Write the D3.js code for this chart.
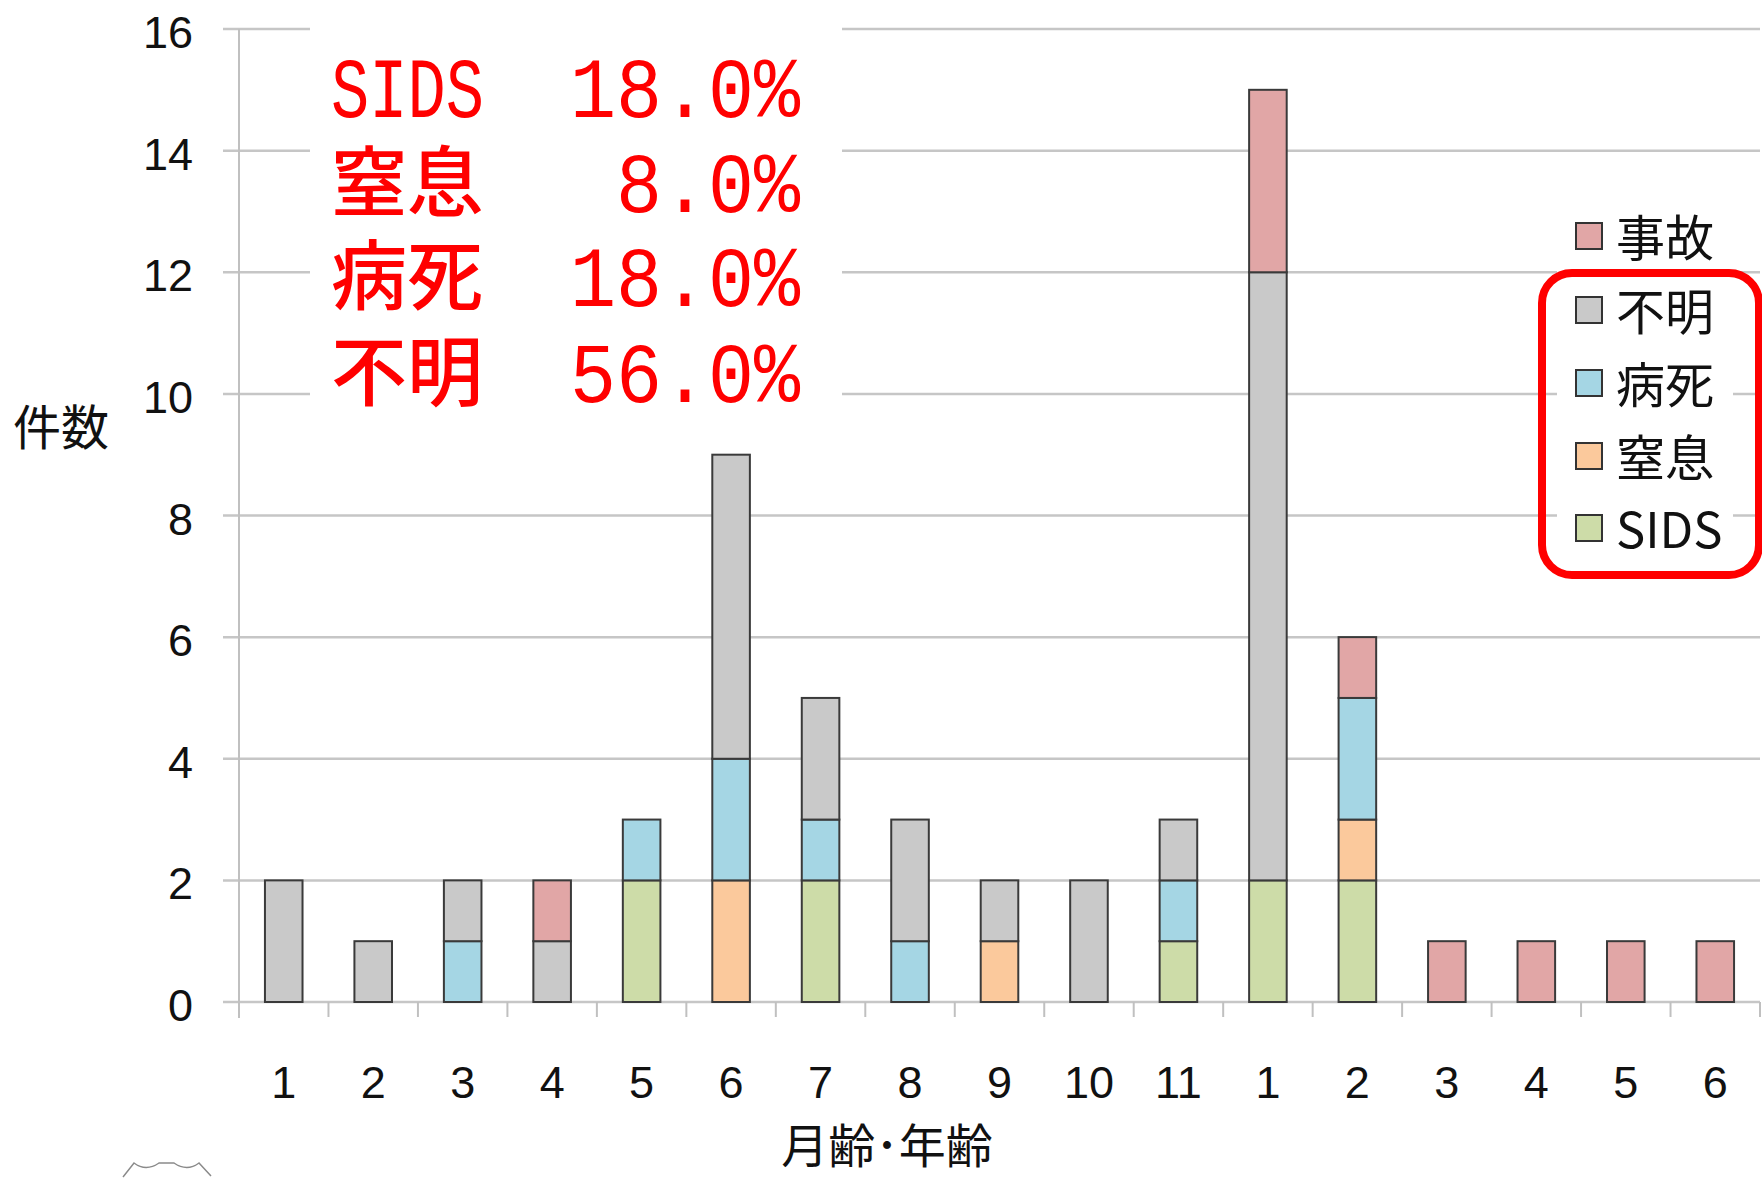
<!DOCTYPE html>
<html>
<head>
<meta charset="utf-8">
<script src="https://cdn.jsdelivr.net/npm/d3@7"></script>
<style>
html,body{margin:0;padding:0;background:#fff;}
svg{display:block;}
</style>
</head>
<body>
<svg id="chart" width="1762" height="1178"></svg>
<script>
// ---- data ----
const categories = ["1","2","3","4","5","6","7","8","9","10","11","1","2","3","4","5","6"];
const seriesKeys = ["SIDS","窒息","病死","不明","事故"];
const sids   = [0,0,0,0,2,0,2,0,0,0,1,2,2,0,0,0,0];
const chissoku = [0,0,0,0,0,2,0,0,1,0,0,0,1,0,0,0,0];
const byoshi = [0,0,1,0,1,2,1,1,0,0,1,0,2,0,0,0,0];
const fumei  = [2,1,1,1,0,5,2,2,1,2,1,10,0,0,0,0,0];
const jiko   = [0,0,0,1,0,0,0,0,0,0,0,3,1,1,1,1,1];
const yTicks = [0,2,4,6,8,10,12,14,16];
const legendOrder = ["事故","不明","病死","窒息","SIDS"];
const annoLabels = ["SIDS","窒息","病死","不明"];
const annoValues = ["18.0%","8.0%","18.0%","56.0%"];
const yTitle = "件数";
const xTitle = "月齢･年齢";

const colors = {"SIDS":"#cddca8","窒息":"#fbc99c","病死":"#a5d6e4","不明":"#c9c9c9","事故":"#e1a6a6"};

const rows = categories.map((c,i)=>({idx:i, cat:c, "SIDS":sids[i], "窒息":chissoku[i], "病死":byoshi[i], "不明":fumei[i], "事故":jiko[i]}));

const svg = d3.select("#chart");
const x = d3.scaleBand().domain(d3.range(categories.length)).range([239,1760]).paddingInner(0).paddingOuter(0);
const y = d3.scaleLinear().domain([0,16]).range([1002,29]);

// gridlines
svg.append("g").selectAll("line").data(yTicks).join("line")
  .attr("x1",223).attr("x2",1760)
  .attr("y1",d=>y(d)).attr("y2",d=>y(d))
  .attr("stroke","#c6c6c6").attr("stroke-width",2.5);

// y axis line
svg.append("line").attr("x1",239).attr("x2",239).attr("y1",y(16)).attr("y2",1018)
  .attr("stroke","#c0c0c0").attr("stroke-width",2);

// x ticks
const bounds = d3.range(categories.length+1).map(i=> i<categories.length ? x(i) : x(categories.length-1)+x.bandwidth());
svg.append("g").selectAll("line").data(bounds).join("line")
  .attr("x1",d=>d).attr("x2",d=>d).attr("y1",y(0)).attr("y2",1017)
  .attr("stroke","#c0c0c0").attr("stroke-width",2);

// white boxes behind annotation and legend
svg.append("rect").attr("x",310).attr("y",10).attr("width",532).attr("height",420).attr("fill","#fff");
svg.append("rect").attr("x",1557).attr("y",195).attr("width",176).attr("height",365).attr("fill","#fff");

// stacked bars
const stack = d3.stack().keys(seriesKeys)(rows);
const bw = x.bandwidth()*0.42;
const gBars = svg.append("g");
stack.forEach(layer=>{
  gBars.append("g").selectAll("rect").data(layer.filter(d=>d[1]-d[0]>0)).join("rect")
    .attr("x",d=>x(d.data.idx)+x.bandwidth()/2-bw/2)
    .attr("width",bw)
    .attr("y",d=>y(d[1]))
    .attr("height",d=>y(d[0])-y(d[1]))
    .attr("fill",colors[layer.key])
    .attr("stroke","#3a3a3a").attr("stroke-width",2);
});

// y tick labels
svg.append("g").selectAll("text").data(yTicks).join("text")
  .attr("x",193).attr("y",d=>y(d)+19)
  .attr("text-anchor","end")
  .attr("font-family","Liberation Sans, Arial, sans-serif")
  .attr("font-size",45).attr("fill","#111")
  .text(d=>d);

// x tick labels
svg.append("g").selectAll("text").data(rows).join("text")
  .attr("x",d=>x(d.idx)+x.bandwidth()/2).attr("y",1098)
  .attr("text-anchor","middle")
  .attr("font-family","Liberation Sans, Arial, sans-serif")
  .attr("font-size",45).attr("fill","#111")
  .text(d=>d.cat);

// axis titles
svg.append("text").attr("x",13).attr("y",445)
  .attr("font-family","Noto Sans CJK JP, sans-serif").attr("font-size",48).attr("fill","#111")
  .text(yTitle);
svg.append("text").attr("x",887).attr("y",1163).attr("text-anchor","middle")
  .attr("font-family","Noto Sans CJK JP, sans-serif").attr("font-size",47).attr("fill","#111")
  .text(xTitle);

// annotation (red)
const annoBase = [117,212,306,402];
const ga = svg.append("g").attr("fill","#ff0000");
annoLabels.forEach((t,i)=>{
  if (/^[A-Za-z]+$/.test(t)) {
    ga.append("text").attr("x",331).attr("y",annoBase[i])
      .attr("font-family","Liberation Mono, monospace").attr("font-size",86)
      .attr("textLength",153).attr("lengthAdjust","spacingAndGlyphs").text(t);
  } else {
    ga.append("text").attr("x",331).attr("y",annoBase[i]-2)
      .attr("font-family","Noto Sans CJK JP, sans-serif").attr("font-size",76).attr("font-weight",500)
      .text(t);
  }
});
annoValues.forEach((t,i)=>{
  const w = t.length*46;
  ga.append("text").attr("x",800-w).attr("y",annoBase[i])
    .attr("font-family","Liberation Mono, monospace").attr("font-size",86)
    .attr("textLength",w).attr("lengthAdjust","spacingAndGlyphs").text(t);
});

// legend
const legTops = [223,297,370,443,515];
const gl = svg.append("g");
legendOrder.forEach((k,i)=>{
  gl.append("rect").attr("x",1576).attr("y",legTops[i]).attr("width",26).attr("height",26)
    .attr("fill",colors[k]).attr("stroke","#333").attr("stroke-width",2);
  gl.append("text").attr("x",1616).attr("y",legTops[i]+13+20)
    .attr("font-family","Noto Sans CJK JP, sans-serif").attr("font-size",49).attr("fill","#111")
    .text(k);
});
// red rounded frame
svg.append("rect").attr("x",1542).attr("y",273).attr("width",217).attr("height",302)
  .attr("rx",30).attr("ry",30).attr("fill","none").attr("stroke","#ff0000").attr("stroke-width",8);

// decorative clipped shape bottom-left
svg.append("path")
  .attr("d","M123,1177 L134,1163 Q146,1172 159,1163 L174,1163 Q187,1172 199,1163 L211,1176")
  .attr("fill","none").attr("stroke","#8a8a8a").attr("stroke-width",1.5);
</script>
</body>
</html>
